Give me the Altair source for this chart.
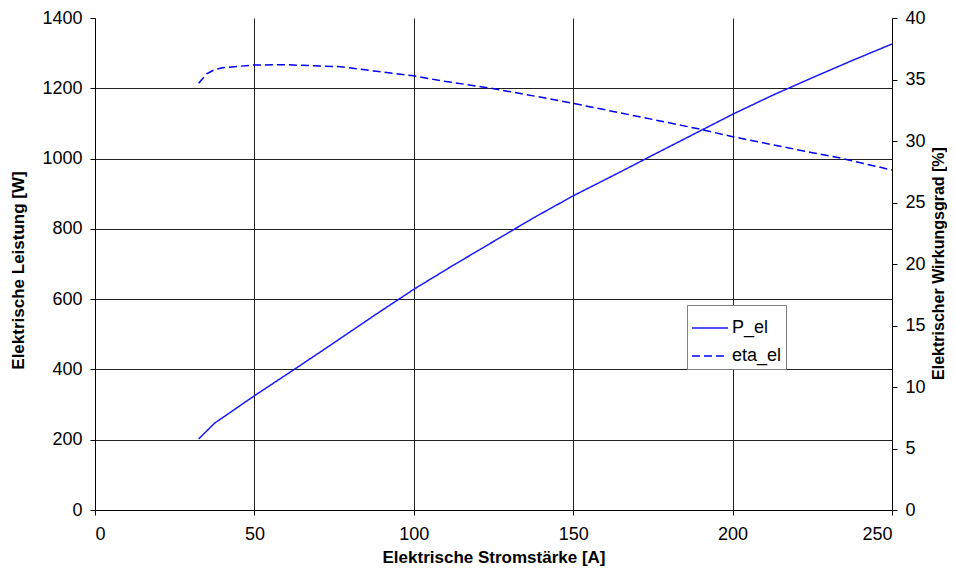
import altair as alt
import pandas as pd

# Electrical power P_el [W] vs current [A]
current_p = [32.5, 37.5, 50, 62.5, 75, 87.5, 100, 112.5, 125, 137.5, 150, 165, 175, 187.5, 200, 212.5, 225, 237.5, 250]
power_w = [202, 247, 325, 400, 476, 553, 628, 697, 764, 831, 894, 963, 1010, 1068, 1126, 1180, 1230, 1279, 1326]

# Electrical efficiency eta_el [%] vs current [A]
current_eta = [32.5, 35, 37.5, 40, 50, 60, 77, 87.5, 100, 108.5, 124, 140, 150, 175, 190, 200, 225, 234, 250]
eta_pct = [34.7, 35.45, 35.8, 35.96, 36.18, 36.2, 36.04, 35.7, 35.3, 34.9, 34.3, 33.55, 33.06, 31.75, 30.95, 30.35, 29.05, 28.6, 27.64]

series_names = ["P_el", "eta_el"]

df_p = pd.DataFrame({"I": current_p, "val": power_w, "series": "P_el"})
df_e = pd.DataFrame({"I": current_eta, "val": eta_pct, "series": "eta_el"})

FONT = "Liberation Sans"

legend = alt.Legend(
    title=None, orient="none", legendX=592, legendY=287,
    symbolType="stroke", symbolSize=1300, symbolStrokeWidth=1.5,
    labelFontSize=18, labelFont=FONT, labelColor="black",
    strokeColor="#808080", fillColor="white", padding=4, rowPadding=-12,
    labelOffset=3,
)
color = alt.Color("series:N", scale=alt.Scale(domain=series_names, range=["#1a1aff", "#0000ee"]), legend=legend)
dash = alt.StrokeDash("series:N", scale=alt.Scale(domain=series_names, range=[[1, 0], [8, 4]]), legend=legend)

x_enc = alt.X(
    "I:Q", scale=alt.Scale(domain=[0, 250], nice=False),
    axis=alt.Axis(values=[0, 50, 100, 150, 200, 250], title="Elektrische Stromstärke [A]",
                  format="d", grid=True, gridColor="#222", gridWidth=1,
                  titlePadding=6, labelPadding=10),
)

left = alt.Chart(df_p).mark_line(strokeWidth=1.5, clip=True).encode(
    x=x_enc,
    y=alt.Y("val:Q", scale=alt.Scale(domain=[0, 1400], nice=False),
            axis=alt.Axis(values=[0, 200, 400, 600, 800, 1000, 1200, 1400], format="d",
                          title="Elektrische Leistung [W]", orient="left",
                          grid=True, gridColor="#222", gridWidth=1,
                          gridOpacity=alt.condition("datum.value >= 1400 || datum.value <= 0", alt.value(0), alt.value(1)),
                          labelPadding=8,
                          titleAngle=270, titleX=-77, titleY=252,
                          titleAlign="center", titleBaseline="middle")),
    color=color, strokeDash=dash,
)

right = alt.Chart(df_e).mark_line(strokeWidth=1.5, clip=True).encode(
    x=x_enc,
    y=alt.Y("val:Q", scale=alt.Scale(domain=[0, 40], nice=False),
            axis=alt.Axis(values=[0, 5, 10, 15, 20, 25, 30, 35, 40], format="d",
                          title="Elektrischer Wirkungsgrad [%]", orient="right",
                          grid=False, labelPadding=8, titleFontSize=16,
                          titleAngle=270, titleX=46, titleY=245,
                          titleAlign="center", titleBaseline="middle")),
    color=color, strokeDash=dash,
)

chart = alt.layer(left, right).resolve_scale(y="independent").properties(
    width=797, height=492,
    background="white",
    autosize=alt.AutoSizeParams(type="none"),
    padding={"left": 87, "top": 10, "right": 55, "bottom": 63},
).configure_view(stroke=None).configure_axis(
    labelFont=FONT, labelFontSize=18, labelColor="black",
    titleFont=FONT, titleFontSize=17, titleFontWeight="bold", titleColor="black",
    domainColor="black", domainWidth=1, tickColor="black", tickSize=5,
)

chart.save("out.html", embed_options={"renderer": "svg", "actions": False})
